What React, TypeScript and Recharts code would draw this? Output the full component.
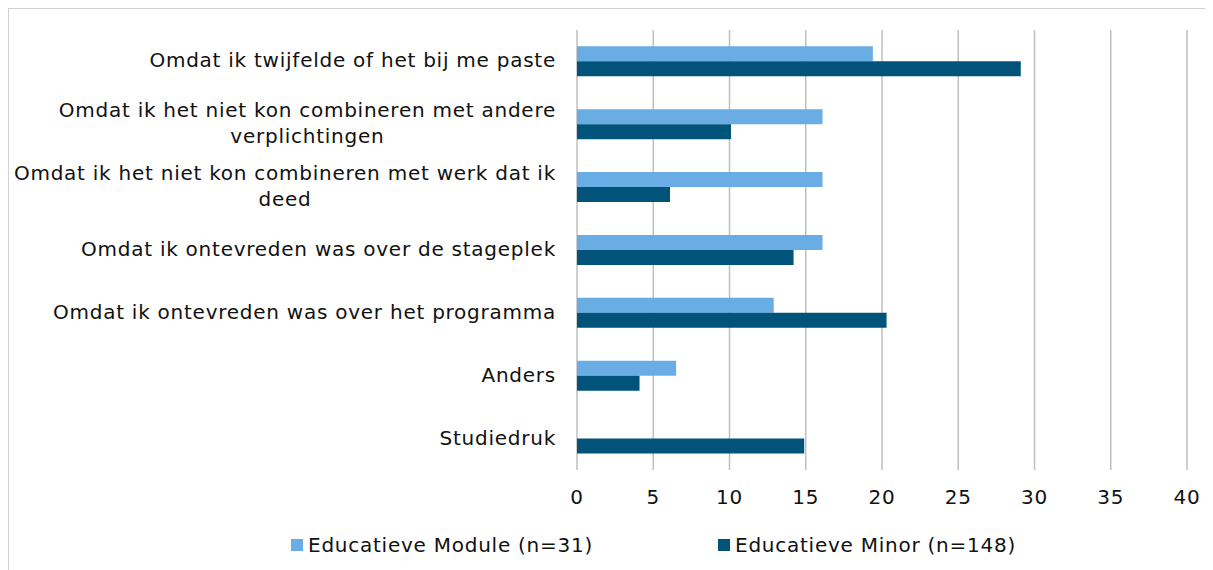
import React from "react";
import { BarChart, Bar, XAxis, YAxis, CartesianGrid, Legend } from "recharts";

const categories: string[] = [
  "Omdat ik twijfelde of het bij me paste",
  "Omdat ik het niet kon combineren met andere\nverplichtingen",
  "Omdat ik het niet kon combineren met werk dat ik\ndeed",
  "Omdat ik ontevreden was over de stageplek",
  "Omdat ik ontevreden was over het programma",
  "Anders",
  "Studiedruk",
];
const moduleValues: number[] = [19.4, 16.1, 16.1, 16.1, 12.9, 6.5, 0];
const minorValues: number[] = [29.1, 10.1, 6.1, 14.2, 20.3, 4.1, 14.9];
const xTicks: number[] = [0, 5, 10, 15, 20, 25, 30, 35, 40];
const seriesNames = ["Educatieve Module (n=31)", "Educatieve Minor (n=148)"];
const colors = ["#6AADE4", "#02537A"];

const data = categories.map((c, i) => ({
  name: c,
  module: moduleValues[i],
  minor: minorValues[i],
}));

const FONT = "Verdana, 'DejaVu Sans', sans-serif";
const FS = 20;
const LS = 0.75;

let measureCtx: any = null;
function measure(text: string): number {
  if (!measureCtx) {
    const c = document.createElement("canvas");
    measureCtx = c.getContext("2d");
  }
  if (!measureCtx) return text.length * 11;
  measureCtx.font = `${FS}px Verdana, 'DejaVu Sans', sans-serif`;
  const w = measureCtx.measureText(text).width;
  return w + text.length * LS;
}

const YTick = (props: any) => {
  const { x, y, payload } = props;
  const lines: string[] = String(payload.value).split("\n");
  const right = x - 21;
  const lh = 26;
  if (lines.length === 1) {
    return (
      <text x={right} y={y} dy={6} textAnchor="end" fontSize={FS} letterSpacing={LS} fontFamily={FONT} fill="#111">
        {lines[0]}
      </text>
    );
  }
  const maxW = Math.max(...lines.map(measure));
  const cx = right - maxW / 2;
  const startY = y - ((lines.length - 1) * lh) / 2;
  return (
    <g>
      {lines.map((l, i) => (
        <text key={i} x={cx} y={startY + i * lh} dy={6} textAnchor="middle" fontSize={FS} letterSpacing={LS} fontFamily={FONT} fill="#111">
          {l}
        </text>
      ))}
    </g>
  );
};

const LegendContent = () => (
  <div style={{ position: "relative", height: 24, fontFamily: FONT, fontSize: FS, letterSpacing: LS, color: "#111" }}>
    {seriesNames.map((n, i) => (
      <div
        key={n}
        style={{
          position: "absolute",
          left: i === 0 ? 282 : 709,
          top: 0,
          display: "flex",
          alignItems: "center",
          whiteSpace: "nowrap",
        }}
      >
        <span style={{ display: "inline-block", width: 12, height: 12, background: colors[i], marginRight: 5 }} />
        <span>{n}</span>
      </div>
    ))}
  </div>
);

export default function App() {
  return (
    <div style={{ width: 1203, height: 570, border: "1px solid #d0d0d0", background: "#fff" }}>
      <BarChart
        width={1203}
        height={560}
        data={data}
        layout="vertical"
        margin={{ top: 21, right: 25, bottom: 35, left: 0 }}
        barCategoryGap="26%"
        barGap={0}
      >
        <CartesianGrid horizontal={false} stroke="#bfbfbf" strokeWidth={1.5} />
        <XAxis
          type="number"
          domain={[0, 40]}
          ticks={xTicks}
          axisLine={false}
          tickLine={false}
          tickMargin={14}
          height={40}
          tick={{ fontSize: FS, fontFamily: FONT, fill: "#111", letterSpacing: LS }}
        />
        <YAxis
          type="category"
          dataKey="name"
          width={568}
          axisLine={false}
          tickLine={false}
          tickSize={0}
          tickMargin={0}
          interval={0}
          tick={<YTick />}
        />
        <Legend verticalAlign="bottom" content={<LegendContent />} wrapperStyle={{ left: 0, width: 1203, bottom: 12 }} />
        <Bar dataKey="module" name={seriesNames[0]} fill={colors[0]} isAnimationActive={false} />
        <Bar dataKey="minor" name={seriesNames[1]} fill={colors[1]} isAnimationActive={false} />
      </BarChart>
    </div>
  );
}
